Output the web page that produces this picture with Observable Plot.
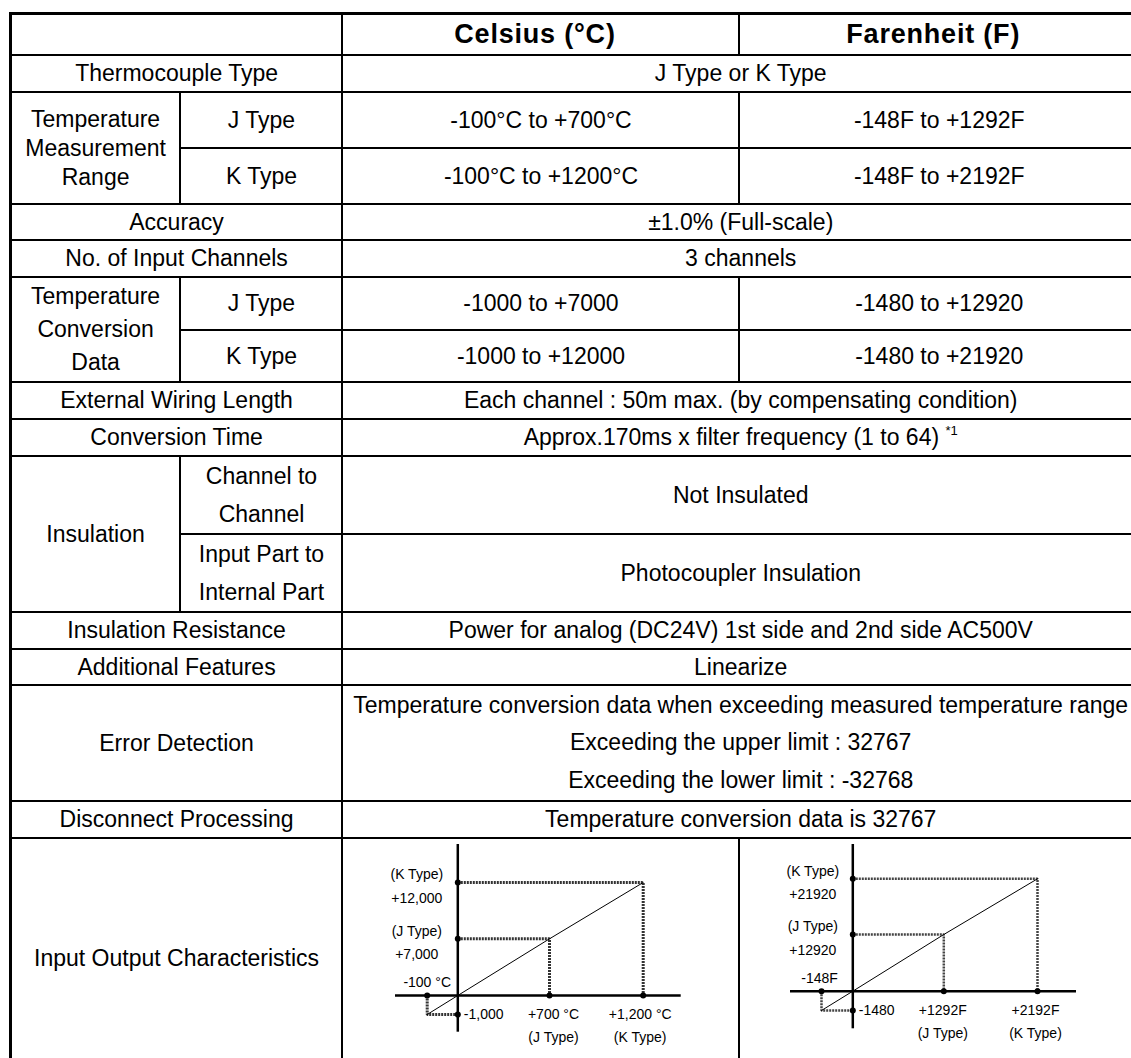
<!DOCTYPE html>
<html>
<head>
<meta charset="utf-8">
<script src="https://cdn.jsdelivr.net/npm/d3@7"></script>
<script src="https://cdn.jsdelivr.net/npm/@observablehq/plot@0.6"></script>
<style>
html, body { margin: 0; padding: 0; background: #fff; width: 1131px; height: 1058px; overflow: hidden; }
#tbl { position: absolute; left: 8.7px; top: 11.7px; border-collapse: collapse; table-layout: fixed; width: 1129px;
  font-family: "Liberation Sans", Arial, sans-serif; font-size: 23px; color: #000; border: 3px solid #000; }
#tbl td { border: 2px solid #000; padding: 0; text-align: center; vertical-align: middle; white-space: nowrap; line-height: 1.15; }
#tbl td.h { font-weight: bold; font-size: 27px; letter-spacing: 0.8px; padding-right: 12px; }
#tbl td.m3 { line-height: 29px; }
#tbl td.c3 { line-height: 33px; }
#tbl td.i2 { line-height: 38px; }
#tbl td.e3 { line-height: 37.5px; }
#tbl sup { font-size: 13px; vertical-align: 10px; line-height: 0; }
.chart { position: absolute; top: 828px; }
#chartC { left: 341px; width: 396px; }
#chartF { left: 738px; width: 393px; }
</style>
</head>
<body>
<table id="tbl">
  <colgroup><col style="width:170.3px"><col style="width:162px"><col style="width:397px"><col style="width:400px"></colgroup>
  <tr style="height:42px"><td colspan="2"></td><td class="h">Celsius (°C)</td><td class="h">Farenheit (F)</td></tr>
  <tr style="height:37px"><td colspan="2">Thermocouple Type</td><td colspan="2">J Type or K Type</td></tr>
  <tr style="height:56px"><td rowspan="2" class="m3">Temperature<br>Measurement<br>Range</td><td>J Type</td><td>-100°C to +700°C</td><td>-148F to +1292F</td></tr>
  <tr style="height:56px"><td>K Type</td><td>-100°C to +1200°C</td><td>-148F to +2192F</td></tr>
  <tr style="height:36px"><td colspan="2">Accuracy</td><td colspan="2">±1.0% (Full-scale)</td></tr>
  <tr style="height:37px"><td colspan="2">No. of Input Channels</td><td colspan="2">3 channels</td></tr>
  <tr style="height:53px"><td rowspan="2" class="c3">Temperature<br>Conversion<br>Data</td><td>J Type</td><td>-1000 to +7000</td><td>-1480 to +12920</td></tr>
  <tr style="height:52px"><td>K Type</td><td>-1000 to +12000</td><td>-1480 to +21920</td></tr>
  <tr style="height:37px"><td colspan="2">External Wiring Length</td><td colspan="2">Each channel : 50m max. (by compensating condition)</td></tr>
  <tr style="height:37px"><td colspan="2">Conversion Time</td><td colspan="2">Approx.170ms x filter frequency (1 to 64) <sup>*1</sup></td></tr>
  <tr style="height:74px"><td rowspan="2">Insulation</td><td class="i2">Channel to<br>Channel</td><td colspan="2">Not Insulated</td></tr>
  <tr style="height:74px"><td class="i2">Input Part to<br>Internal Part</td><td colspan="2">Photocoupler Insulation</td></tr>
  <tr style="height:37px"><td colspan="2">Insulation Resistance</td><td colspan="2">Power for analog (DC24V) 1st side and 2nd side AC500V</td></tr>
  <tr style="height:36px"><td colspan="2">Additional Features</td><td colspan="2">Linearize</td></tr>
  <tr style="height:116px"><td colspan="2">Error Detection</td><td colspan="2" class="e3">Temperature conversion data when exceeding measured temperature range<br>Exceeding the upper limit : 32767<br>Exceeding the lower limit : -32768</td></tr>
  <tr style="height:37px"><td colspan="2">Disconnect Processing</td><td colspan="2">Temperature conversion data is 32767</td></tr>
  <tr style="height:240px"><td colspan="2">Input Output Characteristics</td><td></td><td></td></tr>
</table>
<div id="chartC" class="chart"></div>
<div id="chartF" class="chart"></div>
<script>
// Input/output characteristic values (schematic axes)
const celsiusTicks = [-100, 0, 700, 1200];
const celsiusData = [-1000, 0, 7000, 12000];
const fahrenheitTicks = [-148, 0, 1292, 2192];
const fahrenheitData = [-1480, 0, 12920, 21920];
const celsiusYLabels = ["(K Type)\n+12,000", "(J Type)\n+7,000"];
const celsiusXLabels = ["+700 °C\n(J Type)", "+1,200 °C\n(K Type)"];
const celsiusMinLabels = ["-100 °C", "-1,000"];
const fahrenheitYLabels = ["(K Type)\n+21920", "(J Type)\n+12920"];
const fahrenheitXLabels = ["+1292F\n(J Type)", "+2192F\n(K Type)"];
const fahrenheitMinLabels = ["-148F", "-1480"];

function ioChart(xs, ys, yLabels, xLabels, minLabels, L) {
  const [xMin, , xJ, xK] = xs;
  const [yMin, , yJ, yK] = ys;
  const hatch = [
    {g: "K", x: 0, y: yK}, {g: "K", x: xK, y: yK}, {g: "K", x: xK, y: 0},
    {g: "J", x: 0, y: yJ}, {g: "J", x: xJ, y: yJ}, {g: "J", x: xJ, y: 0},
    {g: "L", x: xMin, y: 0}, {g: "L", x: xMin, y: yMin}, {g: "L", x: 0, y: yMin}
  ];
  const diag = xs.map((x, i) => ({x, y: ys[i]}));
  const dots = [{x: 0, y: yK}, {x: 0, y: yJ}, {x: xMin, y: 0}, {x: xJ, y: 0}, {x: xK, y: 0}, {x: 0, y: yMin}];
  const yLab = [{t: yLabels[0], y: yK}, {t: yLabels[1], y: yJ}];
  const xLab = [{t: xLabels[0], x: xJ}, {t: xLabels[1], x: xK}];
  // schematic (piecewise) axes: values are placed at the diagram's break points
  const xSchematic = d3.scaleLinear().domain(xs).range(L.xRange);
  const ySchematic = d3.scaleLinear().domain(ys).range(L.yRange);
  return Plot.plot({
    width: L.width, height: L.height,
    marginTop: L.mt, marginBottom: L.mb, marginLeft: L.ml, marginRight: L.mr,
    x: {type: "linear", transform: xSchematic, domain: [0, L.width], range: [0, L.width], axis: null},
    y: {type: "linear", transform: ySchematic, domain: [0, L.height], range: [0, L.height], axis: null},
    style: {background: "transparent", fontFamily: "'Liberation Sans', Arial, sans-serif", fontSize: "14px", color: "#000", overflow: "visible"},
    marks: [
      Plot.line(hatch, {x: "x", y: "y", z: "g", stroke: L.hatchColor, strokeWidth: L.hatchWidth, strokeDasharray: "2,1", strokeLinejoin: "miter", strokeLinecap: "butt"}),
      Plot.line(diag, {x: "x", y: "y", stroke: "#000", strokeWidth: 1}),
      Plot.ruleX([0], {stroke: "#000", strokeWidth: 2.5}),
      Plot.ruleY([0], {stroke: "#000", strokeWidth: 2.5}),
      Plot.dot(dots, {x: "x", y: "y", r: 3, fill: "#000", stroke: "none"}),
      Plot.text(yLab, {x: () => 0, y: "y", text: "t", dx: L.yLabelDx, dy: 1, lineHeight: 1.68, textAnchor: "middle", fill: "#000"}),
      Plot.text(xLab.slice(0, 1), {x: "x", y: () => 0, text: "t", dx: L.dxJ, dy: 7, lineAnchor: "top", lineHeight: 1.65, fill: "#000"}),
      Plot.text(xLab.slice(1), {x: "x", y: () => 0, text: "t", dx: L.dxK, dy: 7, lineAnchor: "top", lineHeight: 1.65, fill: "#000"}),
      Plot.text([minLabels[0]], {x: () => xMin, y: () => 0, text: d => d, dx: L.minDx, dy: -13, fill: "#000"}),
      Plot.text([minLabels[1]], {x: () => 0, y: () => yMin, text: d => d, dx: 6, textAnchor: "start", fill: "#000"})
    ]
  });
}

document.getElementById("chartC").append(ioChart(celsiusTicks, celsiusData, celsiusYLabels, celsiusXLabels, celsiusMinLabels, {
  width: 396, height: 230, mt: 16, mb: 26.3, ml: 54, mr: 56.3,
  xRange: [85.7, 116.3, 208, 301.7], yRange: [186, 167, 110.3, 54],
  hatchColor: "#333", hatchWidth: 3, yLabelDx: -41, dxJ: 4, dxK: -3, minDx: 0
}));
document.getElementById("chartF").append(ioChart(fahrenheitTicks, fahrenheitData, fahrenheitYLabels, fahrenheitXLabels, fahrenheitMinLabels, {
  width: 393, height: 230, mt: 16, mb: 29.7, ml: 52, mr: 55,
  xRange: [83, 114.3, 205.3, 299], yRange: [182, 162.7, 106, 50.3],
  hatchColor: "#444", hatchWidth: 2.5, yLabelDx: -40, dxJ: -1, dxK: -2, minDx: -2
}));
</script>
</body>
</html>
